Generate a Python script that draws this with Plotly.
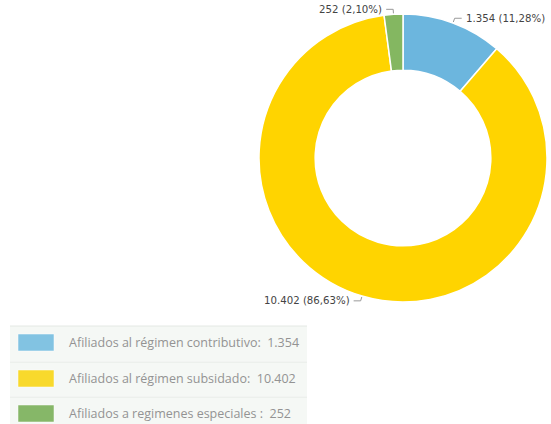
import math
import plotly.graph_objects as go

categories = ["Afiliados al régimen contributivo", "Afiliados al régimen subsidado", "Afiliados a regimenes especiales"]
legend_names = ["Afiliados al régimen contributivo:", "Afiliados al régimen subsidado:", "Afiliados a regimenes especiales :"]
values = [1354, 10402, 252]
value_labels = ["1.354", "10.402", "252"]
pct_labels = ["11,28%", "86,63%", "2,10%"]
slice_colors = ["#6cb6de", "#ffd400", "#84b761"]
legend_colors = ["#82c3e2", "#f8d92c", "#86b768"]

W, H = 551, 424
CX, CY, R = 403, 158, 144
HOLE = 0.61

def px(x):
    return x / W

def py(y):
    return 1 - y / H

fig = go.Figure()
fig.add_trace(go.Pie(
    labels=categories, values=values, sort=False, direction="clockwise", rotation=0,
    hole=HOLE, textinfo="none", hoverinfo="label+value+percent",
    marker=dict(colors=slice_colors, line=dict(color="white", width=1.5)),
    domain=dict(x=[px(CX - R), px(CX + R)], y=[py(CY + R), py(CY - R)]),
    showlegend=False,
))

shapes = []
annotations = []
total = sum(values)
cum = 0
for i, v in enumerate(values):
    mid = (cum + v / 2) / total * 2 * math.pi
    cum += v
    s, c = math.sin(mid), math.cos(mid)
    x0, y0 = CX + (R + 1) * s, CY - (R + 1) * c
    x1, y1 = CX + (R + 5) * s, CY - (R + 5) * c
    d = 1 if s >= 0 else -1
    x2 = x1 + 7 * d
    shapes.append(dict(type="path", xref="paper", yref="paper",
                       path=f"M {px(x0)},{py(y0)} L {px(x1)},{py(y1)} L {px(x2)},{py(y1)}",
                       line=dict(color="#999999", width=1)))
    annotations.append(dict(x=px(x2 + 2 * d), y=py(y1), xref="paper", yref="paper",
                            text=f"{value_labels[i]} ({pct_labels[i]})", showarrow=False,
                            xanchor="left" if d > 0 else "right", yanchor="middle",
                            font=dict(family="DejaVu Sans", size=10.2, color="#444444")))

# legend table
row_tops = [326, 362, 397]
row_bottoms = [361, 396, 430]
for i in range(3):
    shapes.append(dict(type="rect", xref="paper", yref="paper",
                       x0=px(10), x1=px(307), y0=py(row_bottoms[i]), y1=py(row_tops[i]),
                       fillcolor="#f5f8f5", line=dict(width=0), layer="below"))
    shapes.append(dict(type="line", xref="paper", yref="paper",
                       x0=px(10), x1=px(307), y0=py(row_tops[i]), y1=py(row_tops[i]),
                       line=dict(color="#e4e8e4", width=1)))
    top = row_tops[i] + 8
    shapes.append(dict(type="rect", xref="paper", yref="paper",
                       x0=px(18), x1=px(54), y0=py(top + 17), y1=py(top),
                       fillcolor=legend_colors[i], line=dict(color="#ffffff", width=0.5)))
    annotations.append(dict(x=px(67), y=py(top + 8), xref="paper", yref="paper",
                            text=f"{legend_names[i]}&nbsp;&nbsp;{value_labels[i]}", showarrow=False,
                            xanchor="left", yanchor="middle",
                            font=dict(family="Open Sans", size=12.5, color="#939393")))

fig.update_layout(
    width=W, height=H, margin=dict(l=0, r=0, t=0, b=0),
    paper_bgcolor="white", plot_bgcolor="white",
    shapes=shapes, annotations=annotations,
)
fig.write_html("out.html", config={"displayModeBar": False},
               post_script="document.body.style.margin='0px';document.body.style.padding='0px';")
